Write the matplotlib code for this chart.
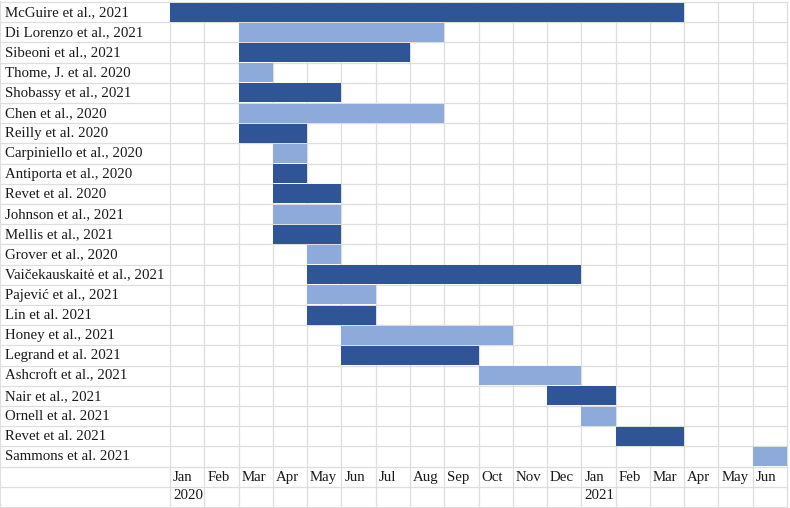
import matplotlib.pyplot as plt

# Study names (top to bottom), start month index (0 = Jan 2020), duration in months, shade
studies = ['McGuire et al., 2021', 'Di Lorenzo et al., 2021', 'Sibeoni et al., 2021',
           'Thome, J. et al. 2020', 'Shobassy et al., 2021', 'Chen et al., 2020',
           'Reilly et al. 2020', 'Carpiniello et al., 2020', 'Antiporta et al., 2020',
           'Revet et al. 2020', 'Johnson et al., 2021', 'Mellis et al., 2021',
           'Grover et al., 2020', 'Vaičekauskaitė et al., 2021', 'Pajević et al., 2021',
           'Lin et al. 2021', 'Honey et al., 2021', 'Legrand et al. 2021',
           'Ashcroft et al., 2021', 'Nair et al., 2021', 'Ornell et al. 2021',
           'Revet et al. 2021', 'Sammons et al. 2021']
start = [0, 2, 2, 2, 2, 2, 2, 3, 3, 3, 3, 3, 4, 4, 4, 4, 5, 5, 9, 11, 12, 13, 17]
duration = [15, 6, 5, 1, 3, 6, 2, 1, 1, 2, 2, 2, 1, 8, 2, 2, 5, 4, 3, 2, 1, 2, 1]
shade = ['d', 'l', 'd', 'l', 'd', 'l', 'd', 'l', 'd', 'd', 'l', 'd', 'l', 'd', 'l',
         'd', 'l', 'd', 'l', 'd', 'l', 'd', 'l']
months = ['Jan', 'Feb', 'Mar', 'Apr', 'May', 'Jun', 'Jul', 'Aug', 'Sep', 'Oct', 'Nov', 'Dec',
          'Jan', 'Feb', 'Mar', 'Apr', 'May', 'Jun']
years = {0: '2020', 12: '2021'}

DARK = '#2f5597'
LIGHT = '#8eaadb'
GRID = '#dedede'

# layout in pixels
col_w = 34.28
row_h = 20.2
label_w = 170 / col_w
n_rows = len(studies) + 2

fig = plt.figure(figsize=(7.9, 5.08), dpi=100)
ax = fig.add_axes([0, 0, 1, 1])
ax.set_xlim(-label_w, (790 - 170) / col_w)
ax.set_ylim((508 - 2) / row_h, -2 / row_h)
ax.axis('off')

# grid lines
for r in range(n_rows + 1):
    ax.plot([-label_w, len(months)], [r, r], color=GRID, lw=0.9, zorder=1)
for c in range(len(months) + 1):
    ax.plot([c, c], [0, n_rows], color=GRID, lw=0.9, zorder=1)
ax.plot([-label_w, -label_w], [0, n_rows], color=GRID, lw=1.5, zorder=1)

font = dict(family='Liberation Serif', fontsize=10.7, color='#1a1a1a')

# bars
for i, name in enumerate(studies):
    ax.barh(i + 0.5, duration[i], left=start[i], height=0.95,
            color=DARK if shade[i] == 'd' else LIGHT, zorder=2)
    ax.text(-label_w + 5 / col_w, i + 0.52, name, va='center', ha='left', **font)

# month and year rows
m_row = len(studies)
for j, m in enumerate(months):
    ax.text(j + 3 / col_w, m_row + 0.55, m, va='center', ha='left', **font)
for j, y in years.items():
    ax.text(j + 3 / col_w, m_row + 1.42, y, va='center', ha='left', **font)

fig.savefig('out.png', dpi=100)
